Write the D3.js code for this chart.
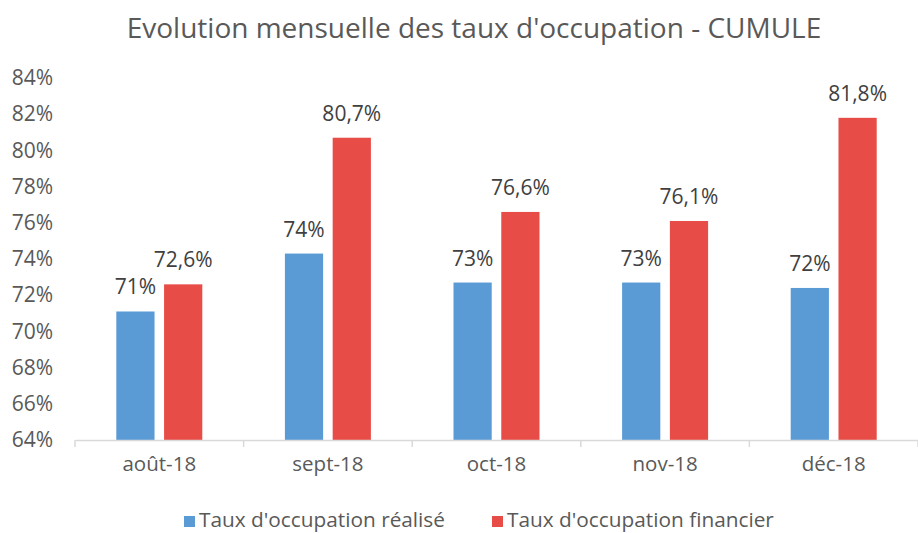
<!DOCTYPE html>
<html>
<head>
<meta charset="utf-8">
<script src="https://cdn.jsdelivr.net/npm/d3@7"></script>
<style>
  body { margin: 0; background: #fff; }
  svg { display: block; font-family: "Open Sans", "Liberation Sans", sans-serif; }
</style>
</head>
<body>
<svg id="chart" width="918" height="533"></svg>
<script>
var categories = ["août-18", "sept-18", "oct-18", "nov-18", "déc-18"];
var seriesNames = ["Taux d'occupation réalisé", "Taux d'occupation financier"];
var realise = [0.711, 0.743, 0.727, 0.727, 0.724];
var financier = [0.726, 0.807, 0.766, 0.761, 0.818];
var yTicks = [0.64, 0.66, 0.68, 0.70, 0.72, 0.74, 0.76, 0.78, 0.80, 0.82, 0.84];
var colors = ["#5b9bd5", "#e84c47"];

var fr = d3.formatLocale({decimal: ",", thousands: " ", grouping: [3], currency: ["", "€"]});
var fmtInt = fr.format(".0%");
var fmtDec = fr.format(".1%");

var W = 918, H = 533;
var margin = {top: 78, right: 0, bottom: 93, left: 75};
var svg = d3.select("#chart");

var x = d3.scaleBand().domain(categories).range([margin.left, W - margin.right]);
var xs = d3.scaleBand().domain([0, 1]).range([0, 86]).paddingInner(0.2);
var y = d3.scaleLinear().domain([0.64, 0.84]).range([H - margin.bottom, margin.top]);

// title
svg.append("text")
  .attr("x", 474).attr("y", 38)
  .attr("text-anchor", "middle")
  .attr("font-size", 28)
  .attr("fill", "#595959")
  .text("Evolution mensuelle des taux d'occupation - CUMULE");

// y axis labels
var yAxis = d3.axisLeft(y).tickValues(yTicks).tickFormat(d3.format(".0%")).tickSize(0).tickPadding(0);
var gy = svg.append("g").attr("transform", "translate(53,0)").call(yAxis);
gy.select(".domain").remove();
gy.selectAll("text").attr("font-size", 21).attr("fill", "#595959").attr("font-family", "Open Sans, sans-serif");

// bars
var series = [realise, financier];
var groups = svg.append("g").selectAll("g")
  .data(categories)
  .join("g")
  .attr("transform", function(d) { return "translate(" + (x(d) + x.bandwidth() / 2 - 43) + ",0)"; });

groups.selectAll("rect")
  .data(function(d, i) { return [0, 1].map(function(s) { return {s: s, v: series[s][i]}; }); })
  .join("rect")
  .attr("x", function(d) { return xs(d.s); })
  .attr("width", xs.bandwidth())
  .attr("y", function(d) { return y(d.v); })
  .attr("height", function(d) { return y(0.64) - y(d.v); })
  .attr("fill", function(d) { return colors[d.s]; });

groups.selectAll("text.lbl")
  .data(function(d, i) { return [0, 1].map(function(s) { return {s: s, v: series[s][i]}; }); })
  .join("text")
  .attr("class", "lbl")
  .attr("x", function(d) { return xs(d.s) + xs.bandwidth() / 2; })
  .attr("y", function(d) { return y(d.v) - 17; })
  .attr("text-anchor", "middle")
  .attr("font-size", 21)
  .attr("fill", "#404040")
  .text(function(d) { return d.s === 0 ? fmtInt(d.v) : fmtDec(d.v); });

// x axis
var xAxis = d3.axisBottom(x).tickSize(0).tickPadding(16);
var gx = svg.append("g").attr("transform", "translate(0," + (H - margin.bottom) + ")").call(xAxis);
gx.select(".domain").attr("stroke", "#d9d9d9").attr("stroke-width", 1.5);
gx.selectAll("text").attr("font-size", 20.5).attr("fill", "#595959").attr("font-family", "Open Sans, sans-serif");
// separator ticks between categories
var bounds = categories.map(function(c) { return x(c); }).concat([W - margin.right]);
svg.append("g").selectAll("line")
  .data(bounds)
  .join("line")
  .attr("x1", function(d) { return d; }).attr("x2", function(d) { return d; })
  .attr("y1", y(0.64)).attr("y2", y(0.64) + 7)
  .attr("stroke", "#d9d9d9").attr("stroke-width", 1.5);

// legend
var legendX = [184, 492];
var leg = svg.append("g").selectAll("g")
  .data(seriesNames)
  .join("g")
  .attr("transform", function(d, i) { return "translate(" + legendX[i] + ",516)"; });
leg.append("rect").attr("width", 11).attr("height", 11).attr("fill", function(d, i) { return colors[i]; });
leg.append("text")
  .attr("x", 15).attr("y", 11)
  .attr("font-size", 20.8)
  .attr("fill", "#595959")
  .text(function(d) { return d; });
</script>
</body>
</html>
